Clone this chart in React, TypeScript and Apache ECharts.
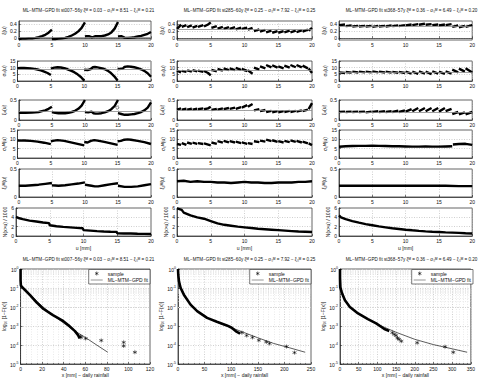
import React, { useEffect, useRef } from "react";
import * as echarts from "echarts";

type Pt = [number, number];
type Seg = Pt[];

const FONT = '"Liberation Sans", Arial, sans-serif';

// ---------- stations and final MTM estimates ----------
const stations = ["st007−56y", "st285−60y", "st368−57y"];
const xiM = [0.03, 0.25, 0.36];
const sigma0M = [8.51, 7.92, 6.49];
const xi0M = [0.21, 0.25, 0.2];

// ---------- st007: estimates against threshold u [mm] ----------
const st007Xi: Seg[] = [
  [[0, -0.02], [0.5, -0.01], [1, -0.01], [1.5, 0], [2, 0], [2.5, 0.01], [3, 0.03], [3.5, 0.06], [4, 0.1], [4.5, 0.16], [5, 0.25]],
  [[5, -0.02], [5.5, -0.02], [6, -0.01], [6.5, 0], [7, 0.01], [7.5, 0.04], [8, 0.08], [8.5, 0.13], [9, 0.2], [9.5, 0.3], [10, 0.46]],
  [[10, 0.05], [10.3, 0.06], [10.6, 0.06], [11, 0.03], [11.3, 0.04], [11.6, 0.06], [12, 0.06], [12.5, 0.06], [13, 0.08], [13.5, 0.11], [14, 0.17], [14.5, 0.28], [15, 0.47]],
  [[15, 0.05], [15.5, 0.06], [16, 0.02], [16.5, 0.01], [17, 0.02], [17.5, 0.03], [18, 0.05], [18.5, 0.07], [19, 0.1], [19.5, 0.13], [20, 0.18]],
];
const st007SigmaU: Seg[] = [
  [[0, 9.6], [0.5, 9.7], [1, 9.7], [1.5, 9.6], [2, 9.4], [2.5, 9.1], [3, 8.6], [3.5, 8], [4, 7.1], [4.5, 6], [5, 4.5]],
  [[5, 9.3], [5.5, 10], [6, 10.3], [6.5, 10.1], [7, 9.6], [7.5, 8.8], [8, 7.8], [8.5, 6.6], [9, 5], [9.5, 3], [10, 0.3]],
  [[10, 8.4], [10.5, 8.2], [11, 9], [11.3, 10.3], [11.6, 10.5], [12, 10.2], [12.5, 9.7], [13, 9], [13.5, 7.8], [14, 6], [14.5, 3.5], [15, 0.3]],
  [[15, 9], [15.5, 9.2], [15.8, 9.4], [16, 10.5], [16.5, 11], [17, 10.7], [17.5, 10.3], [18, 9.7], [18.5, 8.8], [19, 7.6], [19.5, 5.8], [20, 3.2]],
];
const st007XiU: Seg[] = [
  [[0, 0.18], [1, 0.18], [2, 0.185], [2.5, 0.19], [3, 0.2], [3.5, 0.22], [4, 0.24], [4.5, 0.28], [5, 0.33]],
  [[5, 0.2], [5.5, 0.18], [6, 0.17], [6.5, 0.17], [7, 0.17], [7.5, 0.18], [8, 0.2], [8.5, 0.23], [9, 0.28], [9.5, 0.36], [10, 0.5]],
  [[10, 0.2], [10.5, 0.19], [11, 0.21], [11.3, 0.17], [11.6, 0.16], [12, 0.16], [12.5, 0.17], [13, 0.19], [13.5, 0.22], [14, 0.27], [14.5, 0.35], [15, 0.5]],
  [[15, 0.17], [15.5, 0.15], [16, 0.13], [16.5, 0.13], [17, 0.14], [17.5, 0.15], [18, 0.17], [18.5, 0.2], [19, 0.24], [19.5, 0.31], [20, 0.44]],
];
const st007XiUOutlier: Pt[] = [[14.9, 0.31]];
const st007Sigma0: Seg[] = [
  [[0, 9.3], [1, 9.4], [2, 9.2], [3, 8.8], [4, 8.2], [5, 7.4]],
  [[5, 9], [5.5, 9.3], [6, 9.6], [7, 9.2], [8, 8.4], [9, 7.6], [10, 6.8]],
  [[10, 8.6], [10.5, 8.3], [11, 9.2], [11.5, 9.6], [12, 9.3], [13, 8.6], [14, 7.8], [15, 7]],
  [[15, 9], [15.5, 9.2], [16, 9.8], [16.5, 10], [17, 9.8], [18, 9.2], [19, 8.5], [20, 7.5]],
];
const st007Xi0: Seg[] = [
  [[0, 0.2], [1, 0.2], [2, 0.21], [3, 0.22], [4, 0.235], [5, 0.25]],
  [[5, 0.21], [6, 0.2], [7, 0.21], [8, 0.225], [9, 0.24], [10, 0.26]],
  [[10, 0.22], [10.5, 0.21], [11, 0.2], [11.5, 0.19], [12, 0.19], [13, 0.21], [14, 0.23], [15, 0.245]],
  [[15, 0.2], [16, 0.18], [17, 0.18], [18, 0.19], [19, 0.21], [20, 0.23]],
];
const st007Count: Seg[] = [
  [[0, 4.1], [0.5, 3.8], [1, 3.6], [2, 3.3], [3, 3.1], [4, 2.9], [4.9, 2.75], [5, 2.3], [6, 2.1], [7, 1.95], [8, 1.85], [9, 1.75], [9.9, 1.65],
   [10, 1.25], [11, 1.15], [12, 1.05], [13, 0.98], [14, 0.92], [14.9, 0.88], [15, 0.6], [16, 0.55], [17, 0.52], [18, 0.48], [19, 0.45], [20, 0.43]],
];

// ---------- st285 ----------
const st285Xi: Seg[] = [
  [[0, 0.27], [0.3, 0.33], [0.6, 0.4]], [[0.7, 0.33], [1.4, 0.38]], [[1.5, 0.32], [2.2, 0.37]], [[2.3, 0.31], [3.0, 0.36]],
  [[3.1, 0.33], [3.9, 0.38]], [[4.0, 0.34], [4.6, 0.4], [5.0, 0.46]], [[5.1, 0.3], [5.9, 0.35]], [[6.0, 0.28], [6.8, 0.33]],
  [[6.9, 0.27], [7.7, 0.32]], [[7.8, 0.27], [8.6, 0.32]], [[8.7, 0.26], [9.5, 0.31]], [[9.6, 0.27], [10.4, 0.31]],
  [[10.5, 0.25], [11.2, 0.3]], [[11.4, 0.21], [12.2, 0.26]], [[12.3, 0.19], [13.1, 0.24]], [[13.2, 0.17], [14.0, 0.22]],
  [[14.1, 0.16], [14.9, 0.21]], [[15.0, 0.16], [15.8, 0.21]], [[15.9, 0.17], [16.7, 0.22]], [[16.8, 0.17], [17.6, 0.22]],
  [[17.7, 0.18], [18.5, 0.23]], [[18.6, 0.19], [19.4, 0.25]], [[19.5, 0.22], [20, 0.3]],
];
const st285SigmaU: Seg[] = [
  [[0, 7.8], [0.6, 6.5]], [[0.7, 7.6], [1.4, 6.8]], [[1.5, 8], [2.2, 7]], [[2.3, 8.2], [3.0, 7.2]],
  [[3.1, 7.8], [3.9, 6.8]], [[4.0, 7.5], [4.6, 6], [5.0, 4.2]], [[5.1, 8.3], [5.9, 7.2]], [[6.0, 9], [6.8, 7.8]],
  [[6.9, 9.5], [7.7, 8.2]], [[7.8, 9.5], [8.6, 8.2]], [[8.7, 9.8], [9.5, 8.3]], [[9.6, 9], [10.4, 7.5]],
  [[10.5, 8], [11.2, 5.5]], [[11.4, 10], [12.2, 8.5]], [[12.3, 11], [13.1, 9.5]], [[13.2, 12], [14.0, 10.2]],
  [[14.1, 11.8], [14.9, 10]], [[15.0, 11], [15.8, 9.5]], [[15.9, 11.5], [16.7, 10]], [[16.8, 12], [17.6, 10.3]],
  [[17.7, 12], [18.5, 10.2]], [[18.6, 11.5], [19.4, 9.5]], [[19.5, 9.5], [20, 6]],
];
const st285XiU: Seg[] = [
  [[0, 0.26], [0.6, 0.29]], [[0.7, 0.26], [1.4, 0.28]], [[1.5, 0.26], [2.2, 0.28]], [[2.3, 0.26], [3.0, 0.28]],
  [[3.1, 0.27], [3.9, 0.29]], [[4.0, 0.27], [4.6, 0.29], [5.0, 0.33]], [[5.1, 0.25], [5.9, 0.28]], [[6.0, 0.26], [6.8, 0.29]],
  [[6.9, 0.27], [7.7, 0.3]], [[7.8, 0.28], [8.6, 0.31]], [[8.7, 0.28], [9.5, 0.32]], [[9.6, 0.31], [10.4, 0.37]],
  [[10.5, 0.33], [11.2, 0.4]], [[11.4, 0.24], [12.2, 0.27]], [[12.3, 0.22], [13.1, 0.25]], [[13.2, 0.2], [14.0, 0.23]],
  [[14.1, 0.19], [14.9, 0.22]], [[15.0, 0.19], [15.8, 0.22]], [[15.9, 0.2], [16.7, 0.23]], [[16.8, 0.2], [17.6, 0.23]],
  [[17.7, 0.21], [18.5, 0.24]], [[18.6, 0.22], [19.4, 0.26]], [[19.5, 0.27], [20, 0.42]],
];
const st285Sigma0: Seg[] = [
  [[0, 7.5], [0.6, 7]], [[0.7, 8], [1.4, 7]], [[1.5, 8.3], [2.2, 7.6]], [[2.3, 8.2], [3.0, 7.6]],
  [[3.1, 8], [3.9, 7.5]], [[4.0, 7.8], [5.0, 6.8]], [[5.1, 8.3], [5.9, 7.6]], [[6.0, 9], [6.8, 8.2]],
  [[6.9, 9.2], [7.7, 8.4]], [[7.8, 9], [8.6, 8.3]], [[8.7, 8.8], [9.5, 8]], [[9.6, 8.4], [10.4, 7.6]],
  [[10.5, 8], [11.2, 7.5]], [[11.4, 9], [12.2, 8.5]], [[12.3, 9.3], [13.1, 8.8]], [[13.2, 9.8], [14.0, 9]],
  [[14.1, 9.5], [14.9, 8.6]], [[15.0, 9], [15.8, 8.3]], [[15.9, 9.2], [16.7, 8.5]], [[16.8, 9.4], [17.6, 8.6]],
  [[17.7, 9.2], [18.5, 8.3]], [[18.6, 8.8], [19.4, 7.8]], [[19.5, 7.8], [20, 6.9]],
];
const st285Xi0: Seg[] = [
  [[0, 0.28], [1, 0.29], [2, 0.27], [3, 0.28], [4, 0.27], [5, 0.27], [6, 0.26], [7, 0.26], [8, 0.25], [9, 0.26], [10, 0.27],
   [11, 0.26], [12, 0.26], [13, 0.25], [14, 0.25], [15, 0.26], [16, 0.26], [17, 0.26], [18, 0.27], [19, 0.27], [20, 0.28]],
];
const st285Count: Seg[] = [
  [[0, 5.9], [0.7, 5.6], [1, 5.0], [2, 4.4], [3, 4.0], [4, 3.7], [5, 3.2], [6, 2.7], [7, 2.4], [8, 2.2], [9, 2.0], [10, 1.85],
   [11, 1.7], [12, 1.55], [13, 1.45], [14, 1.35], [15, 1.25], [16, 1.15], [17, 1.05], [18, 0.95], [19, 0.9], [20, 0.85]],
];

// ---------- st368 ----------
const st368Xi: Seg[] = [
  [[0, 0.38], [0.9, 0.4]], [[1, 0.35], [1.9, 0.37]], [[2, 0.34], [2.9, 0.36]], [[3, 0.34], [3.9, 0.36]], [[4, 0.34], [4.9, 0.36]],
  [[5, 0.33], [5.9, 0.36]], [[6, 0.34], [6.9, 0.36]], [[7, 0.34], [7.9, 0.37]], [[8, 0.35], [8.9, 0.37]], [[9, 0.35], [9.9, 0.38]],
  [[10, 0.37], [10.9, 0.4]], [[11, 0.38], [11.9, 0.41]], [[12, 0.39], [12.9, 0.42]], [[13, 0.39], [13.9, 0.41]], [[14, 0.38], [14.9, 0.4]],
  [[15, 0.37], [15.9, 0.4]], [[16, 0.38], [16.9, 0.41]], [[17, 0.33], [17.9, 0.37]], [[18, 0.32], [18.9, 0.36]], [[19, 0.33], [20, 0.38]],
];
const st368SigmaU: Seg[] = [
  [[0, 6.5], [0.9, 6]], [[1, 6.8], [1.9, 6.3]], [[2, 7], [2.9, 6.4]], [[3, 7], [3.9, 6.5]], [[4, 7], [4.9, 6.5]],
  [[5, 7.2], [5.9, 6.5]], [[6, 7], [6.9, 6.4]], [[7, 7], [7.9, 6.3]], [[8, 6.8], [8.9, 6.2]], [[9, 6.8], [9.9, 6]],
  [[10, 7], [10.9, 5.5]], [[11, 7], [11.9, 5.3]], [[12, 7.2], [12.9, 5.5]], [[13, 7], [13.9, 5.2]], [[14, 7.3], [14.9, 5.5]],
  [[15, 7], [15.9, 5.3]], [[16, 7.2], [16.9, 5.6]], [[17, 8.5], [17.9, 6.5]], [[18, 9.3], [18.9, 7]], [[19, 9.5], [20, 6.3]],
];
const st368XiU: Seg[] = [
  [[0, 0.2], [0.9, 0.21]], [[1, 0.2], [1.9, 0.21]], [[2, 0.2], [2.9, 0.21]], [[3, 0.2], [3.9, 0.21]], [[4, 0.19], [4.9, 0.21]],
  [[5, 0.2], [5.9, 0.22]], [[6, 0.2], [6.9, 0.22]], [[7, 0.2], [7.9, 0.22]], [[8, 0.2], [8.9, 0.23]], [[9, 0.2], [9.9, 0.24]],
  [[10, 0.21], [10.9, 0.27]], [[11, 0.22], [11.9, 0.3]], [[12, 0.22], [12.9, 0.3]], [[13, 0.22], [13.9, 0.3]], [[14, 0.22], [14.9, 0.3]],
  [[15, 0.21], [15.9, 0.3]], [[16, 0.22], [16.9, 0.28]], [[17, 0.15], [17.9, 0.2]], [[18, 0.14], [18.9, 0.19]], [[19, 0.14], [20, 0.2]],
];
const st368Sigma0: Seg[] = [
  [[0, 6], [1, 6.3], [2, 6.4], [3, 6.5], [4, 6.5], [5, 6.6], [6, 6.5], [7, 6.4], [8, 6.3], [9, 6.3], [10, 6.2], [11, 6.1],
   [12, 6.1], [13, 6.2], [14, 6.1], [15, 6.1], [16, 6.2], [17, 6.3]],
  [[17.1, 7.2], [18, 7.5], [19, 7.6], [20, 7]],
];
const st368Xi0: Seg[] = [
  [[0, 0.2], [2, 0.2], [4, 0.2], [6, 0.2], [8, 0.2], [10, 0.2], [12, 0.2], [14, 0.2], [16, 0.2], [18, 0.195], [20, 0.195]],
];
const st368Count: Seg[] = [
  [[0, 4.4], [0.3, 4.0], [1, 3.6], [2, 3.2], [3, 2.85], [4, 2.55], [5, 2.3], [6, 2.05], [7, 1.85], [8, 1.65], [9, 1.5], [10, 1.35],
   [11, 1.22], [12, 1.1], [13, 1.0], [14, 0.92], [15, 0.85], [16, 0.78], [17, 0.72], [18, 0.66], [19, 0.6], [20, 0.55]],
];

// ---------- exceedance probability, log10[1-F(x)] against x [mm] ----------
const st007SampleBody: Pt[] = [[0, 0], [0, -0.3], [0, -0.6], [0.3, -0.87], [3, -1.04], [9, -1.39], [15, -1.77], [21, -2.09], [30, -2.43], [38.5, -2.7], [44.4, -2.96], [50.4, -3.27], [53.3, -3.48], [54.8, -3.65]];
const st007SampleTail: Pt[] = [[55.5, -3.55], [56, -3.6], [60.3, -3.66], [74.8, -3.76], [95.6, -3.86], [95.6, -4.05], [106, -4.38]];
const st007Fit: Pt[] = [[0, -0.85], [10, -1.42], [20, -1.95], [30, -2.43], [40, -2.85], [50, -3.25], [60, -3.6], [70, -3.98], [80.8, -4.38]];

const st285SampleBody: Pt[] = [[0, 0], [0.5, -0.3], [1.9, -0.66], [5, -1.0], [11, -1.35], [23.6, -1.875], [36, -2.22], [54.6, -2.57], [73, -2.78], [91.8, -2.97], [101, -3.09], [110, -3.3], [116.6, -3.4]];
const st285SampleTail: Pt[] = [[120, -3.35], [129, -3.5], [140, -3.6], [152, -3.75], [166, -3.84], [172, -3.92], [204, -4.08], [219, -4.4]];
const st285Fit: Pt[] = [[0, -0.4], [5, -0.95], [10, -1.25], [20, -1.72], [40, -2.28], [60, -2.64], [80, -2.88], [100, -3.08], [120, -3.3], [150, -3.62], [180, -3.92], [210, -4.15], [239, -4.38]];

const st368SampleBody: Pt[] = [[0, 0], [0, -0.5], [0.5, -0.95], [4.4, -1.22], [13.2, -1.65], [26.4, -2.0], [48.3, -2.34], [74.7, -2.64], [96.7, -2.86], [110, -3.04], [118.6, -3.16], [131.8, -3.26]];
const st368SampleTail: Pt[] = [[140, -3.35], [145, -3.44], [150, -3.5], [153.8, -3.63], [158, -3.7], [164, -3.8], [206.5, -3.88], [281, -4.09], [303, -4.38]];
const st368Fit: Pt[] = [[0, 0], [3, -1.0], [10, -1.5], [25, -1.97], [50, -2.37], [75, -2.65], [100, -2.9], [125, -3.12], [150, -3.33], [200, -3.7], [250, -3.98], [300, -4.2], [340, -4.38]];

const xMax = [120, 250, 350];
const xStep = [20, 50, 50];

const rowNames = ["ξ(u)", "σᵤ(u)", "ξᵤ(u)", "σ₀ᴹ(u)", "ξ₀ᴹ(u)", "N(x>u) / 1000"];
const rowAxes = [
  { min: -0.05, max: 0.5, ticks: [0, 0.2, 0.4] },
  { min: 0, max: 15, ticks: [0, 5, 10, 15] },
  { min: 0, max: 0.5, ticks: [0, 0.5] },
  { min: 0, max: 15, ticks: [0, 5, 10, 15] },
  { min: 0, max: 0.5, ticks: [0, 0.5] },
  { min: 0, max: 6, ticks: [0, 2, 4, 6] },
];

const panels: Seg[][][] = [
  [st007Xi, st007SigmaU, st007XiU, st007Sigma0, st007Xi0, st007Count],
  [st285Xi, st285SigmaU, st285XiU, st285Sigma0, st285Xi0, st285Count],
  [st368Xi, st368SigmaU, st368XiU, st368Sigma0, st368Xi0, st368Count],
];
const sampleBody = [st007SampleBody, st285SampleBody, st368SampleBody];
const sampleTail = [st007SampleTail, st285SampleTail, st368SampleTail];
const fits = [st007Fit, st285Fit, st368Fit];

// layout
const colLeft = [16, 177, 339];
const colW = 135;
const rowTop = [21, 61, 100, 130, 169, 208];
const rowH = [19, 20, 20, 28, 28, 28];
const botLeft = [17, 178, 340];
const botW = 133;
const botTop = 269;
const botH = 95;

const ASTERISK = "path://M5,0L5,10M0.67,2.5L9.33,7.5M0.67,7.5L9.33,2.5";
// thin horizontal bar; the hairline slivers at top and bottom keep the icon box at 12x4
const LINE_ICON = "path://M0,0L12,0L12,0.01L0,0.01ZM0,1.7L12,1.7L12,2.3L0,2.3ZM0,3.99L12,3.99L12,4L0,4Z";

function segData(segs: Seg[]) {
  const out: any[] = [];
  segs.forEach((s, i) => {
    if (i > 0) out.push([s[0][0], "-"]);
    s.forEach((p) => out.push(p));
  });
  return out;
}
const toProb = (pts: Pt[]) => pts.map(([x, l]) => [x, Math.pow(10, l)]);

function titleText(c: number) {
  return `ML−MTM−GPD fit ${stations[c]} ξᴹ = ${xiM[c].toFixed(2)} − σ₀ᴹ = ${sigma0M[c].toFixed(2)} − ξ₀ᴹ = ${xi0M[c].toFixed(2)}`;
}

function buildOption() {
  const grid: any[] = [];
  const xAxis: any[] = [];
  const yAxis: any[] = [];
  const series: any[] = [];
  const title: any[] = [];
  const legend: any[] = [];
  const tickFont = { fontFamily: FONT, fontSize: 5, color: "#111" };
  const split = { show: true, lineStyle: { color: "#b0b0b0", width: 0.6, type: [1, 1.5] } };

  for (let c = 0; c < 3; c++) {
    title.push({
      text: titleText(c), left: colLeft[c] + colW / 2, top: 3, textAlign: "center",
      textStyle: { fontFamily: FONT, fontSize: 4.6, fontWeight: "normal", color: "#111" },
    });
    for (let r = 0; r < 6; r++) {
      const idx = grid.length;
      grid.push({ left: colLeft[c], top: rowTop[r], width: colW, height: rowH[r], show: true, borderColor: "#222", borderWidth: 0.7, backgroundColor: "#fff" });
      xAxis.push({
        type: "value", gridIndex: idx, min: 0, max: 20, interval: 5,
        axisLine: { show: true, lineStyle: { color: "#222", width: 0.7 } },
        axisTick: { show: true, inside: true, length: 2, lineStyle: { color: "#222", width: 0.6 } },
        axisLabel: { ...tickFont, margin: 2 },
        splitLine: split,
        name: r === 5 ? "u [mm]" : "", nameLocation: "middle", nameGap: 9,
        nameTextStyle: { fontFamily: FONT, fontSize: 5, color: "#111" },
      });
      const ax = rowAxes[r];
      yAxis.push({
        type: "value", gridIndex: idx, min: ax.min, max: ax.max,
        axisLine: { show: true, lineStyle: { color: "#222", width: 0.7 } },
        axisTick: { show: true, inside: true, length: 2, customValues: ax.ticks, lineStyle: { color: "#222", width: 0.6 } },
        axisLabel: { ...tickFont, margin: 2, customValues: ax.ticks },
        splitLine: split,
        name: rowNames[r], nameLocation: "middle", nameGap: r === 5 ? 7 : 9, nameRotate: 90,
        nameTextStyle: { fontFamily: FONT, fontSize: 5, color: "#111" },
      });
      const ref = r === 0 ? xiM[c] : r === 1 ? sigma0M[c] : r === 2 ? xi0M[c] : null;
      series.push({
        type: "line", xAxisIndex: idx, yAxisIndex: idx, data: segData(panels[c][r]),
        symbol: "none", connectNulls: false, lineStyle: { color: "#000", width: 2.4 },
        markLine: ref === null ? undefined : {
          silent: true, symbol: ["none", "none"], label: { show: false },
          lineStyle: { color: "#8a8a8a", width: 0.8, type: "solid" }, data: [{ yAxis: ref }],
        },
      });
      if (c === 0 && r === 2) {
        series.push({
          type: "scatter", xAxisIndex: idx, yAxisIndex: idx, data: st007XiUOutlier, symbol: "circle", symbolSize: 3,
          itemStyle: { color: "#fff", borderColor: "#000", borderWidth: 0.6 },
        });
      }
    }
  }

  // minor log grid lines: 2..9 x 10^k
  const minorLog: any[] = [];
  for (let k = -5; k < 0; k++) for (let m = 2; m <= 9; m++) minorLog.push({ yAxis: m * Math.pow(10, k) });

  for (let c = 0; c < 3; c++) {
    title.push({
      text: titleText(c), left: botLeft[c] + botW / 2, top: 252, textAlign: "center",
      textStyle: { fontFamily: FONT, fontSize: 4.6, fontWeight: "normal", color: "#111" },
    });
    const idx = grid.length;
    grid.push({ left: botLeft[c], top: botTop, width: botW, height: botH, show: true, borderColor: "#222", borderWidth: 0.7, backgroundColor: "#fff" });
    xAxis.push({
      type: "value", gridIndex: idx, min: 0, max: xMax[c], interval: xStep[c],
      axisLine: { show: true, lineStyle: { color: "#222", width: 0.7 } },
      axisTick: { show: true, inside: true, length: 2, lineStyle: { color: "#222", width: 0.6 } },
      minorTick: { show: true, splitNumber: c === 0 ? 4 : 5, length: 1, lineStyle: { color: "#222", width: 0.5 } },
      minorSplitLine: { show: true, lineStyle: { color: "#d4d4d4", width: 0.5, type: [1, 1.5] } },
      axisLabel: { ...tickFont, margin: 2 },
      splitLine: split,
      name: "x [mm] − daily rainfall", nameLocation: "middle", nameGap: 8,
      nameTextStyle: { fontFamily: FONT, fontSize: 5, color: "#111" },
    });
    yAxis.push({
      type: "log", logBase: 10, gridIndex: idx, min: 1e-5, max: 1,
      axisLine: { show: true, lineStyle: { color: "#222", width: 0.7 } },
      axisTick: { show: true, inside: true, length: 2, lineStyle: { color: "#222", width: 0.6 } },
      axisLabel: {
        margin: 2,
        formatter: (v: number) => `{b|10}{e|${Math.round(Math.log10(v))}}`,
        rich: {
          b: { fontFamily: FONT, fontSize: 5, color: "#111", lineHeight: 7, verticalAlign: "bottom" },
          e: { fontFamily: FONT, fontSize: 3.5, color: "#111", lineHeight: 7, verticalAlign: "top" },
        },
      },
      splitLine: split,
      name: "log₁₀ [1−F(x)]", nameLocation: "middle", nameGap: 10, nameRotate: 90,
      nameTextStyle: { fontFamily: FONT, fontSize: 5, color: "#111" },
    });
    series.push({
      name: "sample", type: "scatter", xAxisIndex: idx, yAxisIndex: idx, data: toProb(sampleTail[c]),
      symbol: ASTERISK, symbolSize: 4,
      itemStyle: { color: "rgba(0,0,0,0)", borderColor: "#000", borderWidth: 0.7 }, z: 4,
    });
    series.push({
      name: "sample body", type: "line", xAxisIndex: idx, yAxisIndex: idx, data: toProb(sampleBody[c]),
      symbol: "none", color: "#000", lineStyle: { color: "#000", width: 2.6 }, z: 4,
    });
    series.push({
      name: "ML−MTM−GPD fit", type: "line", xAxisIndex: idx, yAxisIndex: idx, data: toProb(fits[c]),
      symbol: "none", color: "#333", itemStyle: { color: "#333" }, lineStyle: { color: "#333", width: 0.8 }, z: 3,
      markLine: {
        silent: true, symbol: ["none", "none"], label: { show: false },
        lineStyle: { color: "#d4d4d4", width: 0.5, type: [1, 1.5] }, data: minorLog, z: 1,
      },
    });
    legend.push({
      data: [
        { name: "sample", icon: ASTERISK, itemStyle: { color: "rgba(0,0,0,0)", borderColor: "#000", borderWidth: 0.7 } },
        { name: "ML−MTM−GPD fit", icon: LINE_ICON, itemStyle: { color: "#333", borderWidth: 0 } },
      ],
      orient: "vertical", selectedMode: false, symbolKeepAspect: true,
      right: 478 - (botLeft[c] + botW), top: botTop + 0.5,
      itemWidth: 12, itemHeight: 4, itemGap: 1.5, padding: [1.5, 2, 1.5, 2],
      backgroundColor: "#fff", borderColor: "#222", borderWidth: 0.6,
      textStyle: { fontFamily: FONT, fontSize: 5, color: "#111", padding: [0, 0, 0, 0] },
    });
  }

  return { animation: false, backgroundColor: "#fff", title, legend, grid, xAxis, yAxis, series };
}

export default function App() {
  const ref = useRef<HTMLDivElement>(null);
  useEffect(() => {
    if (!ref.current) return;
    const chart = echarts.init(ref.current, undefined, { renderer: "svg" });
    chart.setOption(buildOption() as any);
    return () => chart.dispose();
  }, []);
  return <div ref={ref} style={{ position: "absolute", left: 0, top: 0, width: 478, height: 379, background: "#fff" }} />;
}
